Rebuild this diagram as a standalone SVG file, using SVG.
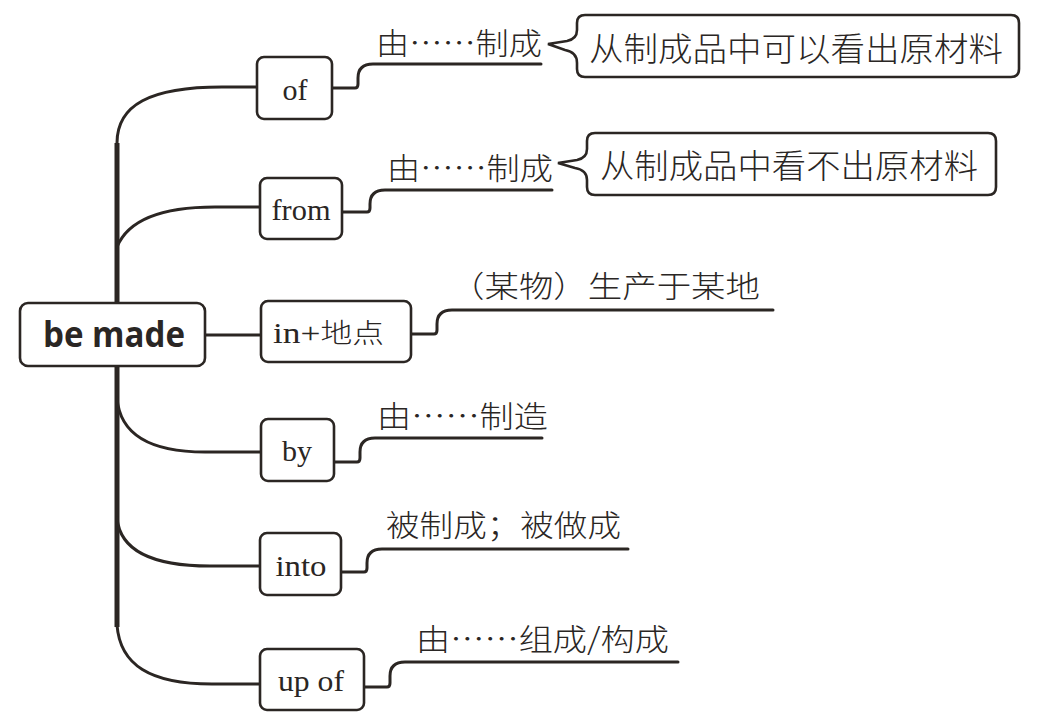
<svg xmlns="http://www.w3.org/2000/svg" width="1054" height="723" viewBox="0 0 1054 723">
<style>
.bg{fill:#ffffff}
.box{fill:#ffffff;stroke:#2b2623;stroke-width:2.6}
.ln{fill:none;stroke:#2b2623;stroke-width:3;stroke-linecap:round;stroke-linejoin:round}
.spine{fill:none;stroke:#2b2623;stroke-width:5}
.en{font-family:"Liberation Serif","Times New Roman",serif;font-size:30px;fill:#2a2624;text-anchor:middle}
.cn{font-family:"Noto Sans CJK SC","Noto Sans",sans-serif;font-size:30px;font-weight:300;fill:#2a2624}
.co{font-family:"Noto Sans CJK SC","Noto Sans",sans-serif;font-size:33px;font-weight:300;fill:#2a2624}
.root{font-family:"Open Sans","Liberation Sans",sans-serif;font-size:36px;font-weight:bold;fill:#2a2624}
</style>
<rect class="bg" x="0" y="0" width="1054" height="723"/>
<g id="connectors">
<path class="spine" d="M117,143 V627"/>
<path class="ln" d="M117,143 C117,105 150,87 222,87 H257"/>
<path class="ln" d="M117,247 C128,220 160,207 215,207 H260"/>
<path class="ln" d="M205,335 H261"/>
<path class="ln" d="M117,398 C120,435 150,452 205,452 H261"/>
<path class="ln" d="M117,518 C120,550 150,566 210,566 H260"/>
<path class="ln" d="M117,625 C120,665 150,684 212,684 H260"/>
<path class="ln" d="M332,88 H355 Q358,88 358,84 V78 Q358,64 373,64 H541"/>
<path class="ln" d="M342,212 H367 Q370,212 370,208 V204 Q370,190 385,190 H552"/>
<path class="ln" d="M411,334 H434 Q437,334 437,330 V324 Q437,310 452,310 H773"/>
<path class="ln" d="M334,462 H357 Q360,462 360,458 V452 Q360,438 375,438 H542"/>
<path class="ln" d="M341,572 H364 Q367,572 367,568 V563 Q367,549 382,549 H628"/>
<path class="ln" d="M364,687 H387 Q390,687 390,683 V676 Q390,662 405,662 H678"/>
</g>
<g id="root">
<rect class="box" x="20" y="303" width="185" height="63" rx="8"/>
<text class="root" x="43" y="347" textLength="142" lengthAdjust="spacingAndGlyphs">be made</text>
</g>
<g id="n-of">
<rect class="box" x="257" y="57" width="75" height="62" rx="7"/>
<text class="en" x="295" y="100">of</text>
</g>
<g id="n-from">
<rect class="box" x="260" y="178" width="82" height="61" rx="7"/>
<text class="en" x="301" y="220" textLength="59" lengthAdjust="spacingAndGlyphs">from</text>
</g>
<g id="n-in">
<rect class="box" x="261" y="301" width="150" height="61" rx="7"/>
<text class="en" x="273" y="343" style="text-anchor:start" textLength="111" lengthAdjust="spacingAndGlyphs">in+<tspan style="font-family:'Noto Sans CJK SC',sans-serif;font-size:27px;font-weight:300">地点</tspan></text>
</g>
<g id="n-by">
<rect class="box" x="261" y="419" width="73" height="62" rx="7"/>
<text class="en" x="297" y="461">by</text>
</g>
<g id="n-into">
<rect class="box" x="260" y="533" width="81" height="62" rx="7"/>
<text class="en" x="301" y="576" textLength="51" lengthAdjust="spacingAndGlyphs">into</text>
</g>
<g id="n-upof">
<rect class="box" x="260" y="649" width="104" height="61" rx="7"/>
<text class="en" x="311" y="691" textLength="66" lengthAdjust="spacingAndGlyphs">up of</text>
</g>
<g id="l-of"><text class="cn" x="376" y="54" textLength="166" lengthAdjust="spacingAndGlyphs">由……制成</text></g>
<g id="l-from"><text class="cn" x="387" y="179" textLength="166" lengthAdjust="spacingAndGlyphs">由……制成</text></g>
<g id="l-in"><text class="cn" x="450" y="297" textLength="310" lengthAdjust="spacingAndGlyphs">（某物）生产于某地</text></g>
<g id="l-by"><text class="cn" x="377" y="427" textLength="171" lengthAdjust="spacingAndGlyphs">由……制造</text></g>
<g id="l-into"><text class="cn" x="386" y="536" textLength="235" lengthAdjust="spacingAndGlyphs">被制成；被做成</text></g>
<g id="l-upof"><text class="cn" x="416" y="650" textLength="253" lengthAdjust="spacingAndGlyphs">由……组成/构成</text></g>
<g id="c-of">
<path class="box" d="M585,15 H1011 Q1019,15 1019,23 V69 Q1019,77 1011,77 H585 Q577,77 577,69 V63 Q577,52 565,50 L548,44 L567,41 Q577,39 577,30 V23 Q577,15 585,15 Z"/>
<text class="co" x="589" y="61" textLength="414" lengthAdjust="spacingAndGlyphs">从制成品中可以看出原材料</text>
</g>
<g id="c-from">
<path class="box" d="M595,133 H988 Q996,133 996,141 V187 Q996,195 988,195 H595 Q587,195 587,187 V180 Q587,170 575,168 L558,163 L577,160 Q587,158 587,149 V141 Q587,133 595,133 Z"/>
<text class="co" x="600" y="178" textLength="378" lengthAdjust="spacingAndGlyphs">从制成品中看不出原材料</text>
</g>
</svg>
